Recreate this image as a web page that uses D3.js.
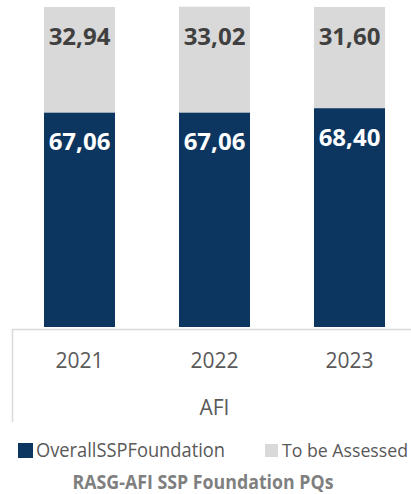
<!DOCTYPE html>
<html>
<head>
<meta charset="utf-8">
<script src="https://cdn.jsdelivr.net/npm/d3@7"></script>
<style>
  body { margin: 0; background: #fff; }
  text { font-family: "Open Sans", sans-serif; }
</style>
</head>
<body>
<div id="chart"></div>
<script>
var years = ["2021", "2022", "2023"];
var foundation = [67.06, 67.06, 68.40];
var assessed = [32.94, 33.02, 31.60];
var seriesNames = ["OverallSSPFoundation", "To be Assessed"];
var seriesColors = ["#0c3660", "#d9d9d9"];
var groupName = "AFI";
var title = "RASG-AFI SSP Foundation PQs";

var W = 411, H = 494;

var svg = d3.select("#chart")
    .append("svg")
    .attr("width", W)
    .attr("height", H);

// plot spans past the right edge, like the cropped original
var xScale = d3.scaleBand()
    .domain(years)
    .range([12, 417])
    .paddingInner(0.474)
    .paddingOuter(0.237);

var yScale = d3.scaleLinear()
    .domain([0, 100])
    .range([327, 7]);

var fmt = function(v) { return v.toFixed(2).replace(".", ","); };

var rows = years.map(function(y, i) {
    return {year: y, a: foundation[i], b: assessed[i]};
});

var g = svg.append("g");

// navy segments
g.selectAll("rect.found")
    .data(rows)
    .enter()
    .append("rect")
    .attr("class", "found")
    .attr("x", function(d) { return xScale(d.year); })
    .attr("width", xScale.bandwidth())
    .attr("y", function(d) { return yScale(d.a); })
    .attr("height", function(d) { return yScale(0) - yScale(d.a); })
    .attr("fill", seriesColors[0]);

// grey segments on top
g.selectAll("rect.todo")
    .data(rows)
    .enter()
    .append("rect")
    .attr("class", "todo")
    .attr("x", function(d) { return xScale(d.year); })
    .attr("width", xScale.bandwidth())
    .attr("y", function(d) { return yScale(d.a + d.b); })
    .attr("height", function(d) { return yScale(d.a) - yScale(d.a + d.b); })
    .attr("fill", seriesColors[1]);

// labels sit near the inside end of each segment
g.selectAll("text.lblA")
    .data(rows)
    .enter()
    .append("text")
    .attr("x", function(d) { return xScale(d.year) + xScale.bandwidth() / 2; })
    .attr("y", function(d) { return yScale(d.a) + 38; })
    .attr("text-anchor", "middle")
    .attr("font-size", "24px")
    .attr("font-weight", "bold")
    .attr("fill", "#ffffff")
    .text(function(d) { return fmt(d.a); });

g.selectAll("text.lblB")
    .data(rows)
    .enter()
    .append("text")
    .attr("x", function(d) { return xScale(d.year) + xScale.bandwidth() / 2; })
    .attr("y", function(d) { return yScale(d.a + d.b) + 38; })
    .attr("text-anchor", "middle")
    .attr("font-size", "24px")
    .attr("font-weight", "bold")
    .attr("fill", "#404040")
    .text(function(d) { return fmt(d.b); });

// category axis
var axis = svg.append("g");
axis.append("line")
    .attr("x1", 12).attr("x2", W)
    .attr("y1", 329.5).attr("y2", 329.5)
    .attr("stroke", "#d9d9d9").attr("stroke-width", 1.5);
axis.append("line")
    .attr("x1", 12.5).attr("x2", 12.5)
    .attr("y1", 329).attr("y2", 422)
    .attr("stroke", "#d9d9d9").attr("stroke-width", 1.5);

axis.selectAll("text.yr")
    .data(years)
    .enter()
    .append("text")
    .attr("x", function(d) { return xScale(d) + xScale.bandwidth() / 2; })
    .attr("y", 368)
    .attr("text-anchor", "middle")
    .attr("font-size", "21px")
    .attr("fill", "#595959")
    .text(function(d) { return d; });

axis.append("text")
    .attr("x", (xScale.range()[0] + xScale.range()[1]) / 2)
    .attr("y", 415)
    .attr("text-anchor", "middle")
    .attr("font-size", "21px")
    .attr("fill", "#595959")
    .text(groupName);

// legend
var legendX = [18, 265];
var legend = svg.selectAll("g.legend")
    .data(seriesNames)
    .enter()
    .append("g")
    .attr("class", "legend")
    .attr("transform", function(d, i) { return "translate(" + legendX[i] + ",443)"; });

legend.append("rect")
    .attr("width", function(d, i) { return i == 0 ? 15 : 13; })
    .attr("height", function(d, i) { return i == 0 ? 15 : 13; })
    .attr("y", function(d, i) { return i == 0 ? 0 : 1; })
    .attr("fill", function(d, i) { return seriesColors[i]; });

legend.append("text")
    .attr("x", function(d, i) { return i == 0 ? 18 : 17; })
    .attr("y", 14)
    .attr("font-size", function(d, i) { return i == 0 ? "19.5px" : "18.5px"; })
    .attr("fill", "#595959")
    .attr("textLength", function(d, i) { return i == 0 ? 189 : 126; })
    .attr("lengthAdjust", "spacingAndGlyphs")
    .text(function(d) { return d; });

svg.append("text")
    .attr("x", 203)
    .attr("y", 489)
    .attr("text-anchor", "middle")
    .attr("font-size", "20px")
    .attr("font-weight", "bold")
    .attr("fill", "#7f7f7f")
    .attr("textLength", 261)
    .attr("lengthAdjust", "spacingAndGlyphs")
    .text(title);
</script>
</body>
</html>
